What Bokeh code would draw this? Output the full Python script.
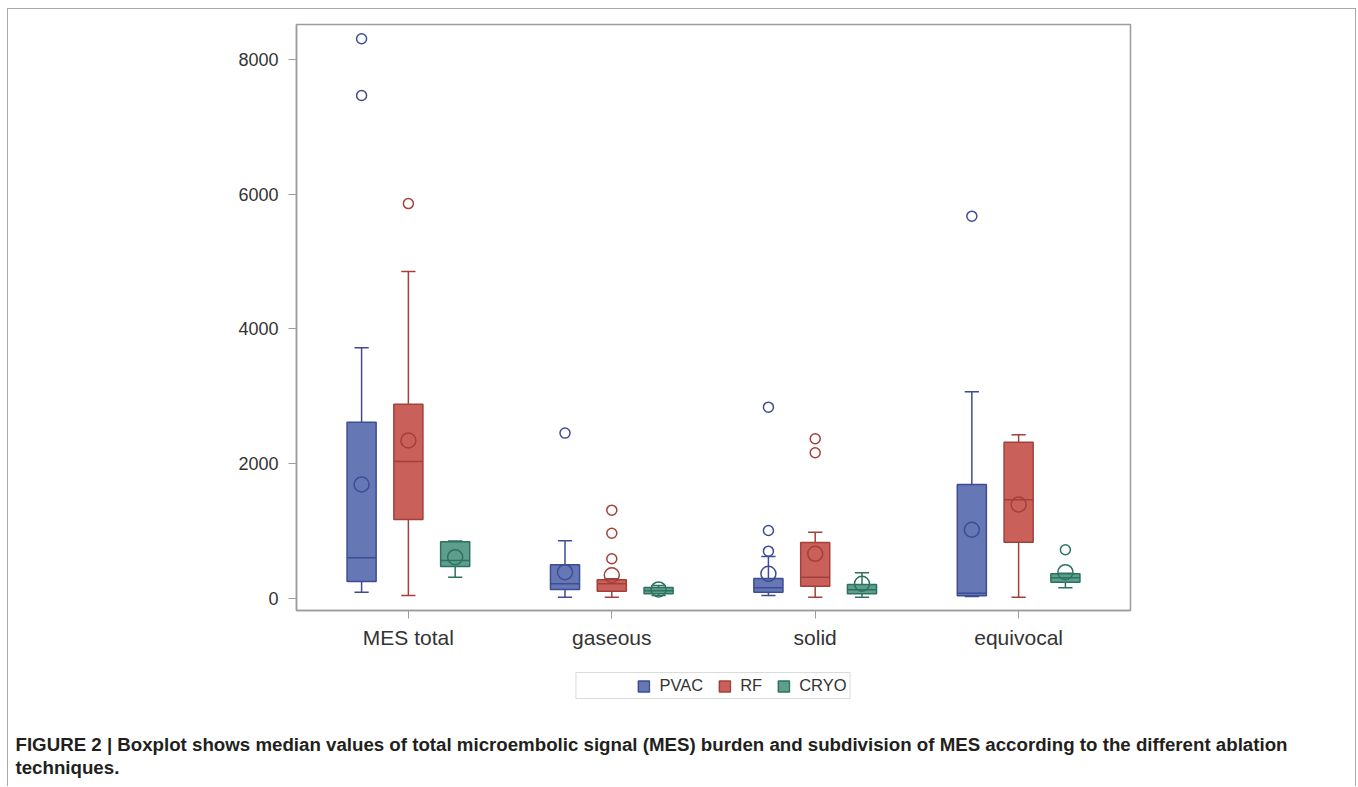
import numpy as np
from bokeh.plotting import figure
from bokeh.layouts import column
from bokeh.models import (FactorRange, Range1d, FixedTicker, ColumnDataSource, Legend,
                          LegendItem, Title)
from bokeh.transform import dodge
from bokeh.embed import file_html
from bokeh.resources import INLINE

categories = ["MES total", "gaseous", "solid", "equivocal"]
groups = ["PVAC", "RF", "CRYO"]

# box statistics per group, one value per category
pvac_low = [89, 15, 40, 25]
pvac_q1 = [248, 129, 89, 35]
pvac_med = [600, 214, 154, 74]
pvac_q3 = [2614, 496, 292, 1688]
pvac_high = [3718, 852, 619, 3065]
pvac_mean = [1688, 386, 362, 1016]
pvac_out_cat = ["MES total", "MES total", "gaseous", "solid", "solid", "solid", "equivocal"]
pvac_out_val = [8307, 7465, 2451, 2837, 1005, 698, 5673]

rf_low = [40, 15, 15, 15]
rf_q1 = [1169, 104, 178, 832]
rf_med = [2030, 214, 312, 1461]
rf_q3 = [2881, 273, 827, 2317]
rf_high = [4851, 290, 980, 2426]
rf_mean = [2342, 340, 659, 1391]
rf_out_cat = ["MES total", "gaseous", "gaseous", "gaseous", "solid", "solid"]
rf_out_val = [5860, 1307, 965, 585, 2367, 2159]

cryo_low = [312, 40, 15, 154]
cryo_q1 = [470, 65, 65, 238]
cryo_med = [560, 110, 125, 303]
cryo_q3 = [837, 160, 203, 362]
cryo_high = [850, 190, 377, 370]
cryo_mean = [609, 130, 214, 386]
cryo_out_cat = ["equivocal"]
cryo_out_val = [719]

y_ticks = [0, 2000, 4000, 6000, 8000]

caption_line1 = "FIGURE 2 | Boxplot shows median values of total microembolic signal (MES) burden and subdivision of MES according to the different ablation"
caption_line2 = "techniques."

series = [
    dict(name="PVAC", low=pvac_low, q1=pvac_q1, med=pvac_med, q3=pvac_q3, high=pvac_high,
         mean=pvac_mean, oc=pvac_out_cat, ov=pvac_out_val,
         fill="#6677B5", line="#3E4C94", off=-0.23),
    dict(name="RF", low=rf_low, q1=rf_q1, med=rf_med, q3=rf_q3, high=rf_high,
         mean=rf_mean, oc=rf_out_cat, ov=rf_out_val,
         fill="#C9605A", line="#A4403A", off=0.0),
    dict(name="CRYO", low=cryo_low, q1=cryo_q1, med=cryo_med, q3=cryo_q3, high=cryo_high,
         mean=cryo_mean, oc=cryo_out_cat, ov=cryo_out_val,
         fill="#5E9E8C", line="#2D7260", off=0.23),
]

FONT = "Liberation Sans"
TXT = "#333333"
FRAME = "#9c9c9c"

# ---------------- main chart ----------------
p = figure(width=1347, height=649, x_range=FactorRange(*categories, range_padding=0.025),
           y_range=Range1d(-183, 8519), output_backend="svg", toolbar_location=None,
           min_border_left=288, min_border_right=225, min_border_top=15, min_border_bottom=48)
p.background_fill_color = "white"
p.border_fill_color = "white"
p.outline_line_color = FRAME
p.outline_line_width = 1.5
p.grid.visible = False

p.yaxis.ticker = FixedTicker(ticks=y_ticks)
p.yaxis.minor_tick_line_color = None
p.yaxis.major_tick_out = 8
p.yaxis.major_tick_in = 0
p.yaxis.major_label_standoff = 10
p.yaxis.major_label_text_font = FONT
p.yaxis.major_label_text_font_size = "18px"
p.yaxis.major_label_text_color = TXT
p.yaxis.axis_line_color = FRAME
p.yaxis.major_tick_line_color = FRAME
p.yaxis.axis_line_width = 1.5

p.xaxis.major_tick_out = 8
p.xaxis.major_tick_in = 0
p.xaxis.major_label_standoff = 7
p.xaxis.major_label_text_font = FONT
p.xaxis.major_label_text_font_size = "21px"
p.xaxis.major_label_text_color = TXT
p.xaxis.axis_line_color = FRAME
p.xaxis.major_tick_line_color = FRAME
p.xaxis.axis_line_width = 1.5

bw = 0.143
cw = 0.035
for s in series:
    src = ColumnDataSource(dict(cat=categories, low=s["low"], q1=s["q1"], med=s["med"],
                                q3=s["q3"], high=s["high"], mean=s["mean"]))
    off = s["off"]
    xc = dodge("cat", off, range=p.x_range)
    xl = dodge("cat", off - cw, range=p.x_range)
    xr = dodge("cat", off + cw, range=p.x_range)
    xbl = dodge("cat", off - bw / 2, range=p.x_range)
    xbr = dodge("cat", off + bw / 2, range=p.x_range)
    p.segment(x0=xc, y0="low", x1=xc, y1="q1", source=src, line_color=s["line"], line_width=1.5)
    p.segment(x0=xc, y0="q3", x1=xc, y1="high", source=src, line_color=s["line"], line_width=1.5)
    p.segment(x0=xl, y0="low", x1=xr, y1="low", source=src, line_color=s["line"], line_width=1.5)
    p.segment(x0=xl, y0="high", x1=xr, y1="high", source=src, line_color=s["line"], line_width=1.5)
    p.vbar(x=xc, width=bw, top="q3", bottom="q1", source=src, fill_color=s["fill"],
           line_color=s["line"], line_width=1.5)
    p.segment(x0=xbl, y0="med", x1=xbr, y1="med", source=src, line_color=s["line"], line_width=1.5)
    p.scatter(x=xc, y="mean", source=src, marker="circle", size=15, fill_color=None,
              line_color=s["line"], line_width=1.5)
    osrc = ColumnDataSource(dict(cat=s["oc"], val=s["ov"]))
    p.scatter(x=dodge("cat", off, range=p.x_range), y="val", source=osrc, marker="circle",
              size=10, fill_color=None, line_color=s["line"], line_width=1.5)

# ---------------- legend + caption strip ----------------
q = figure(width=1347, height=128, x_range=Range1d(0, 1), y_range=Range1d(0, 1),
           output_backend="svg", toolbar_location=None,
           x_axis_location=None, y_axis_location=None,
           min_border_left=288, min_border_right=225, min_border_top=0, min_border_bottom=55)
q.outline_line_color = None
q.grid.visible = False
q.background_fill_color = "white"
q.border_fill_color = "white"

# legend swatches: placeholder renderers with no drawable position
nan = np.array([np.nan])
items = []
blank = q.scatter(x=nan, y=nan, fill_alpha=0, line_alpha=0)
items.append(LegendItem(label="\u00a0\u00a0", renderers=[blank]))
for s in series:
    r = q.vbar(x=nan, width=0.1, top=nan, bottom=nan, fill_color=s["fill"],
               line_color=s["line"], line_width=1.5)
    items.append(LegendItem(label=s["name"], renderers=[r]))

legend = Legend(items=items, orientation="horizontal", location="top_center",
                border_line_color="#b8b8b8", border_line_width=1.5,
                glyph_width=14, glyph_height=14, label_standoff=9, spacing=14,
                padding=3, margin=14,
                label_text_font=FONT, label_text_font_size="16.5px", label_text_color=TXT,
                label_height=14)
q.add_layout(legend)

t1 = Title(text=caption_line1, align="left", offset=-281, standoff=0,
           text_font=FONT, text_font_size="18.7px", text_font_style="bold", text_color="#231f20")
t2 = Title(text=caption_line2, align="left", offset=-281, standoff=0,
           text_font=FONT, text_font_size="18.7px", text_font_style="bold", text_color="#231f20")
q.add_layout(t1, "below")
q.add_layout(t2, "below")

layout = column(p, q, spacing=0,
                styles={"margin-left": "7px", "margin-top": "8px",
                        "border-top": "1px solid #a8a8a8", "border-left": "1px solid #a8a8a8",
                        "border-right": "1px solid #a8a8a8"})

open("out.html", "w").write(file_html(layout, INLINE))
